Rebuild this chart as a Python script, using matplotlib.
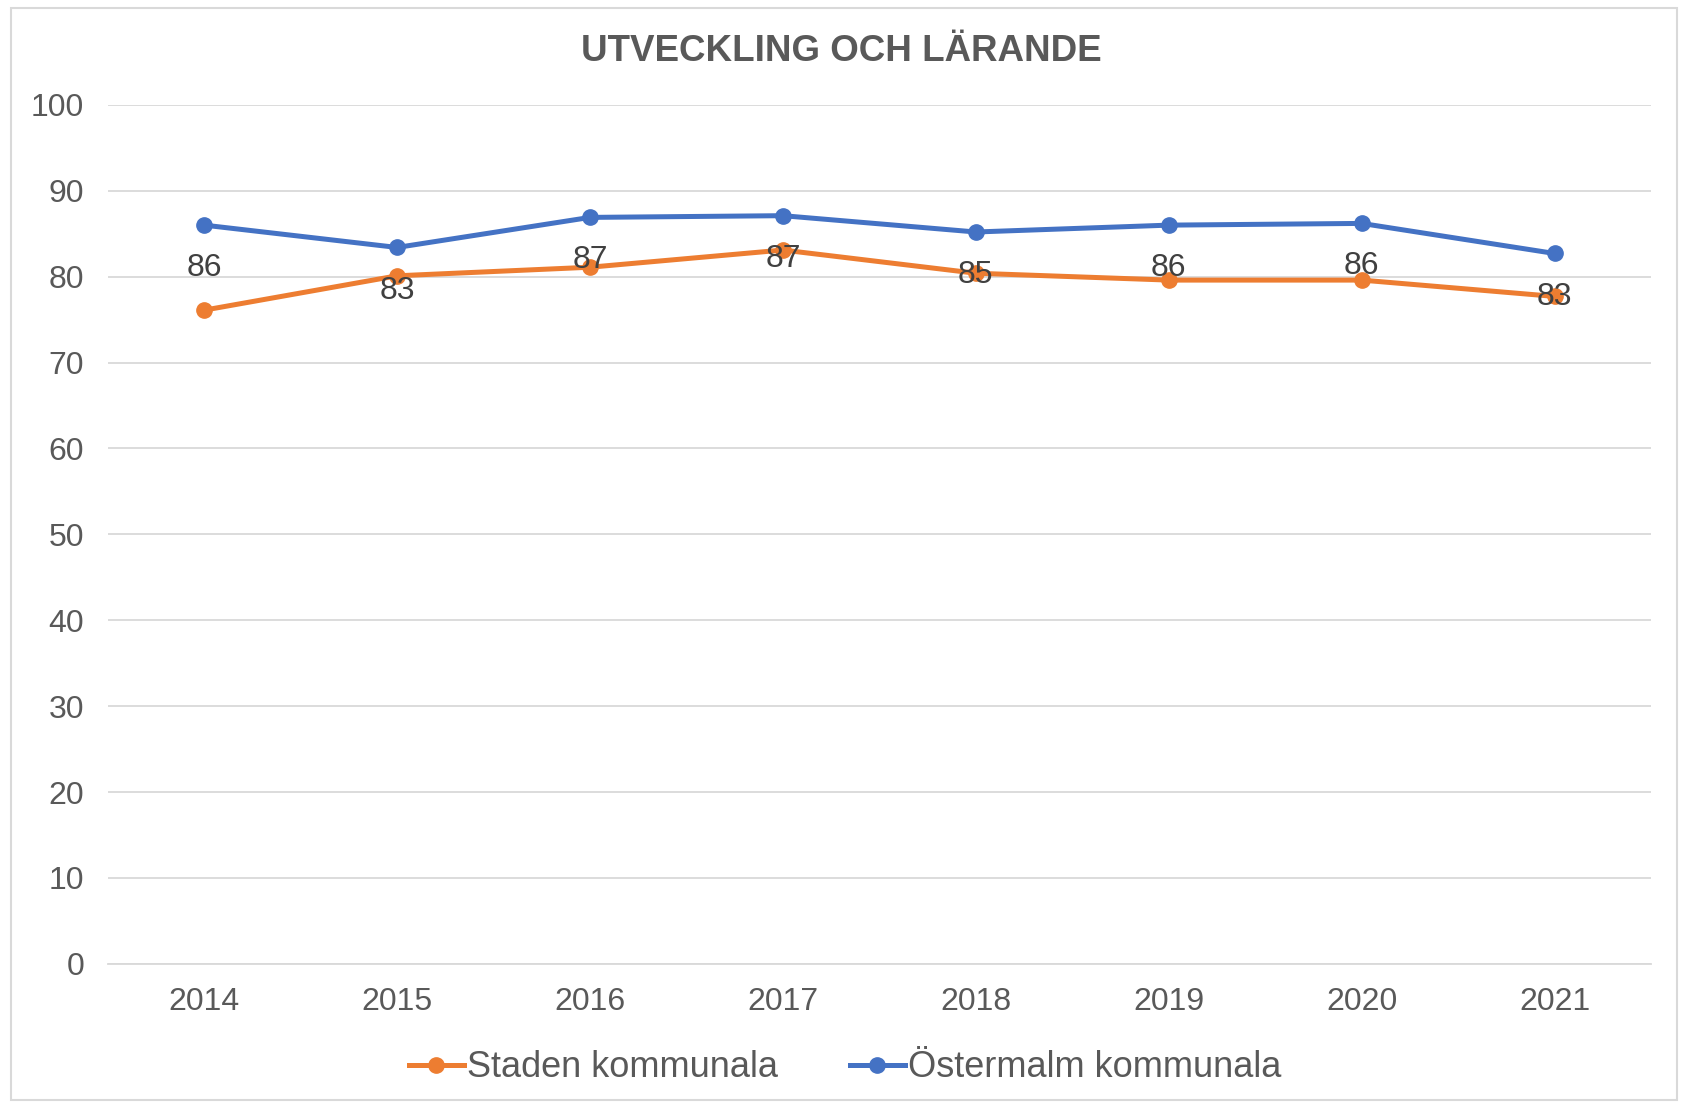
import matplotlib.pyplot as plt
from matplotlib.patches import Rectangle

years = ['2014', '2015', '2016', '2017', '2018', '2019', '2020', '2021']
staden = [76.1, 80.1, 81.1, 83.1, 80.4, 79.6, 79.6, 77.7]
ostermalm = [86.0, 83.4, 86.9, 87.1, 85.2, 86.0, 86.2, 82.7]
ostermalm_labels = ['86', '83', '87', '87', '85', '86', '86', '83']

plt.rcParams['font.family'] = ['Liberation Sans', 'DejaVu Sans']

fig = plt.figure(figsize=(16.83, 11.04), dpi=100)
ax = fig.add_axes([0.064, 0.127, 0.917, 0.778])

# ram runt hela diagrammet
fig.patches.append(Rectangle((0.0065, 0.004), 0.99, 0.989, transform=fig.transFigure,
                             fill=False, edgecolor='#D9D9D9', linewidth=1.5))

x = list(range(len(years)))
ax.plot(x, staden, color='#ED7D31', linewidth=3.6, marker='o', markersize=11,
        label='Staden kommunala', zorder=3)
ax.plot(x, ostermalm, color='#4472C4', linewidth=3.6, marker='o', markersize=11,
        label='Östermalm kommunala', zorder=4)

for i, lab in enumerate(ostermalm_labels):
    ax.annotate(lab, (x[i], ostermalm[i]), xytext=(0, -31), textcoords='offset points',
                ha='center', va='center', fontsize=23, color='#404040', zorder=5)

ax.set_xlim(-0.5, len(years) - 0.5)
ax.set_ylim(0, 100)
ax.set_yticks(range(0, 101, 10))
ax.set_xticks(x)
ax.set_xticklabels(years)
ax.grid(axis='y', color='#D9D9D9', linewidth=1.3)
ax.set_axisbelow(True)
for s in ['top', 'right', 'left']:
    ax.spines[s].set_visible(False)
ax.spines['bottom'].set_color('#D9D9D9')
ax.spines['bottom'].set_linewidth(1.3)
ax.tick_params(axis='both', length=0, labelsize=23, labelcolor='#595959')
ax.tick_params(axis='x', pad=17)
ax.tick_params(axis='y', pad=17)

fig.text(0.5, 0.953, 'UTVECKLING OCH LÄRANDE', ha='center', va='center',
         fontsize=26.5, fontweight='bold', color='#595959')

ax.legend(loc='center', bbox_to_anchor=(0.478, -0.121), ncol=2, frameon=False,
          fontsize=26, labelcolor='#595959', handlelength=1.5, handletextpad=0.1,
          columnspacing=2.0, markerscale=1.0)

fig.savefig('out.png', dpi=100, facecolor='white')
